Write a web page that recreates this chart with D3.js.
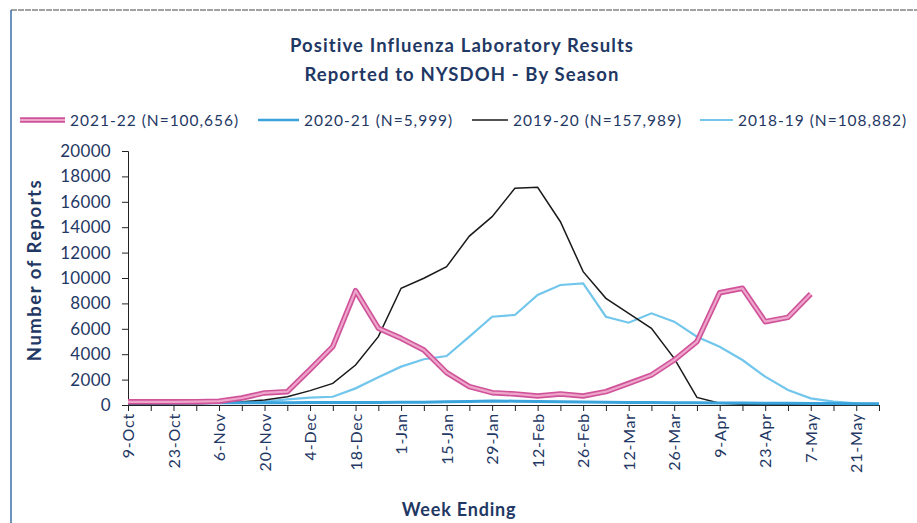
<!DOCTYPE html>
<html><head><meta charset="utf-8">
<script src="https://cdn.jsdelivr.net/npm/d3@7"></script>
<style>body{margin:0;background:#fff;} svg{display:block;}</style>
</head><body>
<svg id="c" width="917" height="523"></svg>
<script>
const weeks = ["9-Oct","16-Oct","23-Oct","30-Oct","6-Nov","13-Nov","20-Nov","27-Nov","4-Dec","11-Dec","18-Dec","25-Dec","1-Jan","8-Jan","15-Jan","22-Jan","29-Jan","5-Feb","12-Feb","19-Feb","26-Feb","5-Mar","12-Mar","19-Mar","26-Mar","2-Apr","9-Apr","16-Apr","23-Apr","30-Apr","7-May","14-May","21-May","28-May"];
const s2021_22 = [250,250,250,260,300,550,950,1050,2800,4600,9000,6050,5250,4330,2550,1450,970,870,710,870,710,1050,1700,2360,3540,4990,8840,9190,6560,6900,8740];
const s2020_21 = [150,150,160,160,170,170,180,180,190,190,200,200,210,220,250,280,320,300,270,250,230,210,200,190,180,170,160,150,140,130,120,110,100,100];
const s2019_20 = [50,60,80,100,150,250,390,650,1130,1700,3150,5380,9190,9980,10890,13300,14830,17060,17140,14430,10500,8400,7220,6040,3670,600,130,60,50,40,40,30,30,30];
const s2018_19 = [100,120,140,160,200,230,260,450,580,650,1310,2180,3020,3600,3860,5380,6950,7090,8660,9450,9580,6950,6480,7220,6560,5380,4590,3540,2230,1180,520,260,130,80];
const yTicks = [0,2000,4000,6000,8000,10000,12000,14000,16000,18000,20000];
const legendLabels = ["2021-22 (N=100,656)","2020-21 (N=5,999)","2019-20 (N=157,989)","2018-19 (N=108,882)"];

const navy = "#1f3864";
const font = "Lato, 'Open Sans', sans-serif";
const svg = d3.select("#c");

// frame
svg.append("line").attr("x1",11).attr("y1",10).attr("x2",917).attr("y2",10).attr("stroke","#444").attr("stroke-width",1).attr("stroke-dasharray","6,1");
svg.append("line").attr("x1",11).attr("y1",10).attr("x2",11).attr("y2",523).attr("stroke","#3a6fa8").attr("stroke-width",1.5);

const x = d3.scalePoint().domain(weeks).range([128, 879]);
const y = d3.scaleLinear().domain([0,20000]).range([405,151]);

// title
svg.append("text").attr("x",462).attr("y",52).attr("text-anchor","middle")
  .attr("font-family",font).attr("font-weight","bold").attr("font-size",18.5).attr("letter-spacing",1.1).attr("fill",navy)
  .text("Positive Influenza Laboratory Results");
svg.append("text").attr("x",462).attr("y",81).attr("text-anchor","middle")
  .attr("font-family",font).attr("font-weight","bold").attr("font-size",18.5).attr("letter-spacing",1.1).attr("fill",navy)
  .text("Reported to NYSDOH - By Season");

// axes
const yAxis = d3.axisLeft(y).tickValues(yTicks).tickSize(6).tickFormat(d3.format("d"));
const gy = svg.append("g").attr("transform","translate(128,0)").call(yAxis);
gy.select(".domain").attr("stroke","#222");
gy.selectAll(".tick line").attr("stroke","#222");
gy.selectAll(".tick text").attr("font-family",font).attr("font-size",17).attr("letter-spacing",0.3).attr("fill",navy).attr("x",-17);

const xAxis = d3.axisBottom(x).tickSize(6).tickFormat((d,i)=> i%2===0 && i<33 ? d : "");
const gx = svg.append("g").attr("transform","translate(0,405)").call(xAxis);
gx.select(".domain").attr("stroke","#222");
gx.selectAll(".tick line").attr("stroke","#222");
gx.selectAll(".tick text").attr("font-family",font).attr("font-size",16).attr("letter-spacing",0.8).attr("fill",navy)
  .attr("transform","rotate(-90)").attr("text-anchor","end").attr("x",-8).attr("y",0).attr("dy","0.35em");

svg.append("text").attr("transform","translate(41,270) rotate(-90)").attr("text-anchor","middle")
  .attr("font-family",font).attr("font-weight","bold").attr("font-size",18.5).attr("letter-spacing",1.5).attr("fill",navy).text("Number of Reports");
svg.append("text").attr("x",459).attr("y",516).attr("text-anchor","middle")
  .attr("font-family",font).attr("font-weight","bold").attr("font-size",18).attr("letter-spacing",0.8).attr("fill",navy).text("Week Ending");

const line = d3.line().x((d,i)=>x(weeks[i])).y(d=>y(d));
// draw order: 2018-19, 2019-20, 2020-21, 2021-22
svg.append("path").datum(s2018_19).attr("d",line).attr("fill","none").attr("stroke","#72c6ec").attr("stroke-width",2.2);
svg.append("path").datum(s2019_20).attr("d",line).attr("fill","none").attr("stroke","#1a1a1a").attr("stroke-width",1.5);
svg.append("path").datum(s2020_21).attr("d",line).attr("fill","none").attr("stroke","#3aa3dc").attr("stroke-width",3);
svg.append("path").datum(s2021_22).attr("d",line).attr("fill","none").attr("stroke","#d0539a").attr("stroke-width",5.5).attr("stroke-linejoin","round");
svg.append("path").datum(s2021_22).attr("d",line).attr("fill","none").attr("stroke","#eea6cb").attr("stroke-width",2.2).attr("stroke-linejoin","round");

// legend
const leg = [
  {x1:20,x2:65,tx:70,c:"#d0539a",w:5.5,inner:"#eea6cb",lab:legendLabels[0]},
  {x1:258,x2:299,tx:304,c:"#3aa3dc",w:2.5,lab:legendLabels[1]},
  {x1:472,x2:508,tx:513,c:"#1a1a1a",w:1.5,lab:legendLabels[2]},
  {x1:700,x2:733,tx:738,c:"#72c6ec",w:2,lab:legendLabels[3]}
];
leg.forEach(l=>{
  svg.append("line").attr("x1",l.x1).attr("x2",l.x2).attr("y1",120).attr("y2",120).attr("stroke",l.c).attr("stroke-width",l.w);
  if(l.inner) svg.append("line").attr("x1",l.x1).attr("x2",l.x2).attr("y1",120).attr("y2",120).attr("stroke",l.inner).attr("stroke-width",2);
  svg.append("text").attr("x",l.tx).attr("y",126).attr("font-family",font).attr("font-size",15.5).attr("letter-spacing",1.0).attr("fill",navy).text(l.lab);
});
</script>
</body></html>
